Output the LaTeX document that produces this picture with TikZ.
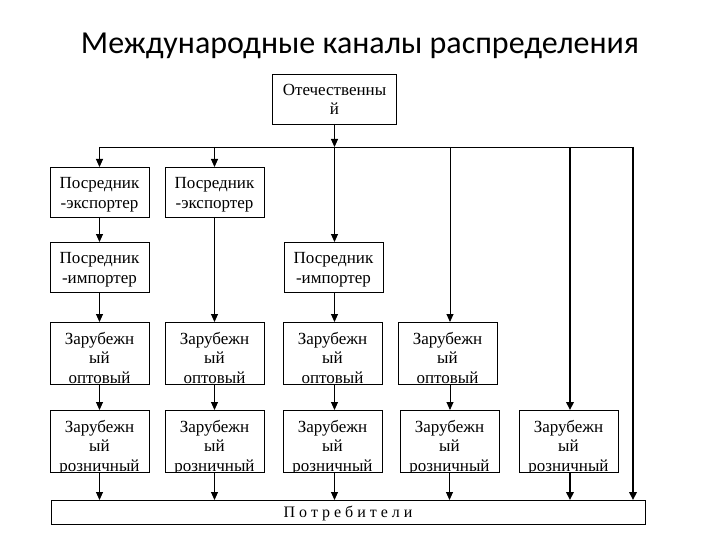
\documentclass[tikz,border=0pt]{standalone}
\usepackage{fontspec}
\setmainfont{Liberation Serif}
\newfontfamily\titlefont{Carlito}
\usetikzlibrary{arrows.meta}
% the base of a multi-line node is the baseline of its last line
\newcommand\boxtexttwo[1]{\node[txt, anchor=base] at ([yshift=-41pt]path picture bounding box.north) {#1};}
\newcommand\boxtextthree[1]{\node[txt, anchor=base] at ([yshift=-61pt]path picture bounding box.north) {#1};}
\begin{document}
\begin{tikzpicture}[x=1pt,y=-1pt,
  box/.style={draw, line width=0.9pt, anchor=north west, minimum width=99pt, minimum height=50pt, inner sep=0pt, outer sep=0pt},
  tall/.style={minimum height=62pt},
  txt/.style={align=center, inner sep=0pt, font=\fontsize{17}{19.5}\selectfont},
  ln/.style={line width=0.9pt},
  ar/.style={line width=0.9pt, -{Triangle[width=7pt,length=8pt]}},
  thk/.style={line width=2.2pt, -{Triangle[width=7.5pt,length=8pt]}},
  title/.style={font=\titlefont\fontsize{32}{36}\selectfont, anchor=base, inner sep=0pt}
]
\useasboundingbox (0,0) rectangle (720,540);
\fill[white] (0,0) rectangle (720,540);

\node[title] (ttl) at (360,54) {Международные каналы распределения};

% top box
\node[box, minimum width=124pt, path picture={\boxtexttwo{Отечественны\\й}}] (T) at (272.5,74) {};

% row 1
\node[box, path picture={\boxtexttwo{Посредник\\-экспортер}}] (E1) at (50,167) {};
\node[box, path picture={\boxtexttwo{Посредник\\-экспортер}}] (E2) at (165,167) {};
% row 2
\node[box, path picture={\boxtexttwo{Посредник\\-импортер}}] (I1) at (50,242) {};
\node[box, path picture={\boxtexttwo{Посредник\\-импортер}}] (I3) at (284,242) {};
% row 3
\node[box, tall, path picture={\boxtextthree{Зарубежн\\ый\\оптовый}}] (W1) at (50,322) {};
\node[box, tall, path picture={\boxtextthree{Зарубежн\\ый\\оптовый}}] (W2) at (165,322) {};
\node[box, tall, path picture={\boxtextthree{Зарубежн\\ый\\оптовый}}] (W3) at (283,322) {};
\node[box, tall, path picture={\boxtextthree{Зарубежн\\ый\\оптовый}}] (W4) at (398,322) {};
% row 4
\node[box, tall, path picture={\boxtextthree{Зарубежн\\ый\\розничный}}] (R1) at (50,410) {};
\node[box, tall, path picture={\boxtextthree{Зарубежн\\ый\\розничный}}] (R2) at (165,410) {};
\node[box, tall, path picture={\boxtextthree{Зарубежн\\ый\\розничный}}] (R3) at (283,410) {};
\node[box, tall, path picture={\boxtextthree{Зарубежн\\ый\\розничный}}] (R4) at (400,410) {};
\node[box, tall, path picture={\boxtextthree{Зарубежн\\ый\\розничный}}] (R5) at (519,410) {};
% consumers
\node[box, minimum width=594pt, minimum height=24pt, font=\fontsize{16}{18}\selectfont, text depth=1pt] (C) at (51,500) {П о т р е б и т е л и};

% junctions on the distribution line
\coordinate (h1) at (99.5,147);
\coordinate (h2) at (214.5,147);
\coordinate (h3) at (334.5,147);
\coordinate (h4) at (450,147);
\coordinate (h5) at (570,147);
\coordinate (h6) at (633,147);

\draw[ar] (T.south) -- (h3);
\draw[ln] (h1) -- (h6);
\draw[ar] (h1) -- (E1.north);
\draw[ar] (h2) -- (E2.north);
\draw[ar] (h3) -- (h3 |- I3.north);
\draw[ar] (h4) -- (h4 |- W4.north);
\draw[thk] (h5) -- (h5 |- R5.north);
\draw[thk] (h6) -- (h6 |- C.north);

% column 1
\draw[ar] (E1.south) -- (I1.north);
\draw[ar] (I1.south) -- (W1.north);
\draw[ar] (W1.south) -- (R1.north);
\draw[ar] (R1.south) -- (R1.south |- C.north);
% column 2
\draw[ar] (E2.south) -- (W2.north);
\draw[ar] (W2.south) -- (R2.north);
\draw[ar] (R2.south) -- (R2.south |- C.north);
% column 3
\draw[ar] (h3 |- I3.south) -- (h3 |- W3.north);
\draw[ar] (h3 |- W3.south) -- (h3 |- R3.north);
\draw[ar] (h3 |- R3.south) -- (h3 |- C.north);
% column 4
\draw[ar] (h4 |- W4.south) -- (h4 |- R4.north);
\draw[ar] (R4.south) -- (R4.south |- C.north);
% column 5
\draw[thk] (h5 |- R5.south) -- (h5 |- C.north);
\end{tikzpicture}
\end{document}
